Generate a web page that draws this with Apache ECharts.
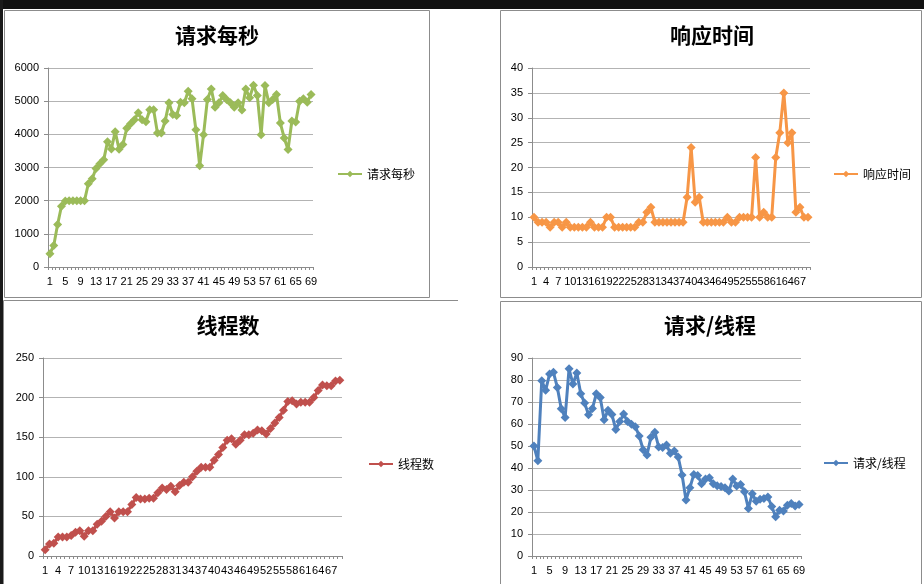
<!DOCTYPE html>
<html><head><meta charset="utf-8">
<script src="https://cdn.jsdelivr.net/npm/echarts@6/dist/echarts.min.js"></script>
<style>html,body{margin:0;padding:0;background:#fff}#c{width:924px;height:584px}</style>
</head><body><div id="c"></div>
<script>
const categories = ['1','2','3','4','5','6','7','8','9','10','11','12','13','14','15','16','17','18','19','20','21','22','23','24','25','26','27','28','29','30','31','32','33','34','35','36','37','38','39','40','41','42','43','44','45','46','47','48','49','50','51','52','53','54','55','56','57','58','59','60','61','62','63','64','65','66','67','68','69'];

const reqPerSec = [400,650,1280,1830,1990,2000,2000,2000,2000,2000,
  2510,2660,2970,3110,3230,3780,3560,4080,3550,3690,
  4180,4320,4440,4650,4440,4380,4740,4740,4040,4040,
  4400,4950,4600,4570,4970,4950,5300,5070,4140,3050,
  3990,5050,5370,4820,4950,5170,5050,4950,4820,4950,
  4730,5370,5100,5480,5170,3990,5470,4950,5050,5200,
  4340,3890,3540,4400,4370,5000,5070,4970,5200];

const respTime = [10,9,9,9,8,9,9,8,9,8,
  8,8,8,8,9,8,8,8,10,10,
  8,8,8,8,8,8,9,9,11,12,
  9,9,9,9,9,9,9,9,14,24,
  13,14,9,9,9,9,9,9,10,9,
  9,10,10,10,10,22,10,11,10,10,
  22,27,35,25,27,11,12,10,10];

const threads = [8,15,16,24,24,24,26,30,32,25,
  32,32,40,44,50,56,48,56,56,56,
  65,74,72,72,73,73,80,86,84,88,
  81,89,93,93,100,107,112,112,112,121,
  128,137,146,148,141,146,153,153,155,159,
  158,154,161,168,175,184,195,196,192,194,
  194,194,200,209,216,215,215,221,222];

const reqPerThread = [50,43.3,79.7,75.3,82.7,83.5,76.6,66.9,63,85.1,
  78.2,83.2,73.8,69.5,64.2,67,73.8,72,61.9,66.3,
  64.3,57.5,61.1,64.5,61.1,59.9,58.8,54.6,48.3,45.9,
  54,56.3,49.6,49.3,50.5,46.7,47.7,45,36.8,25.5,
  31,37.1,36.6,32.8,35,35.6,32.8,31.9,31.6,31,
  29.5,35,31.8,32.5,29.2,21.6,28.3,24.9,25.8,26.1,
  26.8,22.5,17.8,20.8,20.4,23.1,23.9,22.7,23.4];

const names = ['请求每秒','响应时间','线程数','请求/线程'];
const colors = ['#9BBB59','#F79646','#C0504D','#4F81BD'];

const NUMFONT = '"Liberation Sans", Arial, sans-serif';
const CJK = '"Noto Sans CJK SC", sans-serif';
const AX = '#8c8c8c';

function xAxis(gi, interval){
  return {type:'category', gridIndex:gi, data:categories, boundaryGap:true,
    axisLine:{lineStyle:{color:AX,width:1}},
    axisTick:{show:true, interval:0, length:3, lineStyle:{color:AX}},
    axisLabel:{interval:interval, margin:9, fontSize:11, color:'#000', fontFamily:NUMFONT},
    splitLine:{show:false}};
}
function yAxis(gi, max, interval){
  return {type:'value', gridIndex:gi, min:0, max:max, interval:interval,
    axisLine:{show:true, lineStyle:{color:AX,width:1}},
    axisTick:{show:true, length:4, lineStyle:{color:AX}},
    axisLabel:{margin:9, fontSize:11, color:'#000', fontFamily:NUMFONT, formatter:function(v){return String(v);}},
    splitLine:{show:true, lineStyle:{color:'#b3b3b3', width:1}}};
}
function series(i, data){
  return {type:'line', name:names[i], xAxisIndex:i, yAxisIndex:i, data:data,
    symbol:'diamond', symbolSize:9, showAllSymbol:true,
    lineStyle:{width:3, color:colors[i]}, itemStyle:{color:colors[i]},
    emphasis:{disabled:true}, animation:false};
}
function title(text, x, y){
  return {text:text, left:x, top:y, textAlign:'center', padding:0,
    textStyle:{fontSize:21, fontWeight:'bold', color:'#000', fontFamily:CJK}};
}
function legend(name, x, y){
  return {data:[name], left:x, top:y, padding:0, itemWidth:24, itemHeight:8, itemGap:0,
    textStyle:{fontSize:12, color:'#000', fontFamily:CJK}};
}
const chart = echarts.init(document.getElementById('c'), null, {renderer:'canvas'});
chart.setOption({
  animation:false,
  backgroundColor:'#ffffff',
  title:[title(names[0],217,25), title(names[1],712,25), title(names[2],228,315), title(names[3],710,315)],
  legend:[legend(names[0],337,168), legend(names[1],833,168), legend(names[2],368,458), legend(names[3],823,457)],
  grid:[
    {left:48, top:68, width:265, height:199, outerBoundsMode:'none'},
    {left:532, top:68, width:278, height:199, outerBoundsMode:'none'},
    {left:43, top:358, width:299, height:198, outerBoundsMode:'none'},
    {left:532, top:358, width:269, height:198, outerBoundsMode:'none'}
  ],
  xAxis:[xAxis(0,3), xAxis(1,2), xAxis(2,2), xAxis(3,3)],
  yAxis:[yAxis(0,6000,1000), yAxis(1,40,5), yAxis(2,250,50), yAxis(3,90,10)],
  series:[series(0,reqPerSec), series(1,respTime), series(2,threads), series(3,reqPerThread)],
  graphic:[
    {type:'rect', silent:true, z:-10, shape:{x:0,y:0,width:924,height:9}, style:{fill:'#111'}},
    {type:'rect', silent:true, z:-10, shape:{x:0,y:0,width:3,height:584}, style:{fill:'#1a1a1a'}},
    {type:'rect', silent:true, z:-9, shape:{x:4.5,y:10.5,width:425,height:287}, style:{fill:null, stroke:'#8c8c8c', lineWidth:1}},
    {type:'rect', silent:true, z:-9, shape:{x:500.5,y:10.5,width:421,height:287}, style:{fill:null, stroke:'#8c8c8c', lineWidth:1}},
    {type:'polyline', silent:true, z:-9, shape:{points:[[3.5,590],[3.5,300.5],[458,300.5]]}, style:{fill:null, stroke:'#8c8c8c', lineWidth:1}},
    {type:'polyline', silent:true, z:-9, shape:{points:[[500.5,590],[500.5,301.5],[921.5,301.5],[921.5,590]]}, style:{fill:null, stroke:'#8c8c8c', lineWidth:1}}
  ]
});
</script></body></html>
